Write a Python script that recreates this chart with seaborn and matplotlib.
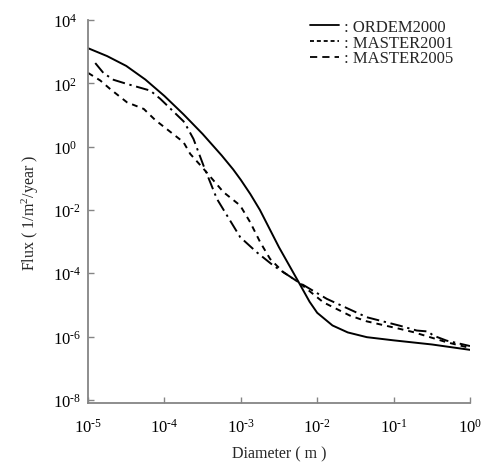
import numpy as np
import pandas as pd
import matplotlib
matplotlib.use("Agg")
import matplotlib.pyplot as plt
from matplotlib.lines import Line2D
import seaborn as sns

# Flux curves, stored as log10(diameter [m]) and log10(flux [1/m^2/year])
ordem_log_d = [-5.0, -4.75, -4.5, -4.25, -4.0, -3.75, -3.5, -3.25, -3.1, -3.0, -2.875,
               -2.75, -2.5, -2.25, -2.1, -2.0, -1.8, -1.6, -1.35, -1.0, -0.5, 0.0]
ordem_log_f = [3.11, 2.86, 2.55, 2.12, 1.60, 1.02, 0.40, -0.28, -0.72, -1.05, -1.50,
               -2.00, -3.18, -4.25, -4.90, -5.25, -5.65, -5.87, -6.02, -6.12, -6.25, -6.42]

m2001_log_d = [-5.0, -4.84, -4.71, -4.49, -4.27, -4.12, -3.75, -3.662, -3.488, -3.226,
               -3.008, -2.877, -2.746, -2.616, -2.442, -2.246, -1.919, -1.57, -1.351,
               -0.915, -0.742, -0.305, 0.0]
m2001_log_f = [2.33, 2.09, 1.82, 1.40, 1.19, 0.84, 0.14, -0.23, -0.70, -1.44,
               -1.86, -2.39, -3.02, -3.55, -3.97, -4.28, -4.92, -5.34, -5.52,
               -5.76, -5.86, -6.18, -6.36]

m2005_log_d = [-4.905, -4.796, -4.665, -4.49, -4.185, -4.054, -3.75, -3.705, -3.619,
               -3.488, -3.313, -3.008, -2.79, -2.573, -2.246, -1.874, -1.351, -0.915,
               -0.697, -0.55, -0.48, -0.305, 0.0]
m2005_log_f = [2.64, 2.32, 2.11, 1.98, 1.77, 1.51, 0.80, 0.62, 0.24,
               -0.60, -1.65, -2.86, -3.34, -3.76, -4.28, -4.81, -5.39, -5.66,
               -5.81, -5.84, -5.97, -6.13, -6.30]

series_names = [": ORDEM2000", ": MASTER2001", ": MASTER2005"]

x_ticks = [1e-5, 1e-4, 1e-3, 1e-2, 1e-1, 1e0]
x_tick_labels = [r"$\mathregular{10^{\text{-}5}}$", r"$\mathregular{10^{\text{-}4}}$",
                 r"$\mathregular{10^{\text{-}3}}$", r"$\mathregular{10^{\text{-}2}}$",
                 r"$\mathregular{10^{\text{-}1}}$", r"$\mathregular{10^{0}}$"]
y_ticks = [1e4, 1e2, 1e0, 1e-2, 1e-4, 1e-6, 1e-8]
y_tick_labels = [r"$\mathregular{10^{4}}$", r"$\mathregular{10^{2}}$", r"$\mathregular{10^{0}}$",
                 r"$\mathregular{10^{\text{-}2}}$", r"$\mathregular{10^{\text{-}4}}$",
                 r"$\mathregular{10^{\text{-}6}}$", r"$\mathregular{10^{\text{-}8}}$"]

sns.set_style("ticks")
plt.rcParams["font.family"] = ["Liberation Serif", "DejaVu Serif"]
plt.rcParams["mathtext.fontset"] = "custom"
plt.rcParams["mathtext.rm"] = "Liberation Serif"
plt.rcParams["mathtext.it"] = "Liberation Serif:italic"
plt.rcParams["axes.unicode_minus"] = False

fig = plt.figure(figsize=(4.86, 4.64), dpi=100)
ax = fig.add_axes([88 / 486, 1 - 403.7 / 464, (470 - 88) / 486, (403.7 - 21) / 464])

curves = [
    (ordem_log_d, ordem_log_f, "-"),
    (m2001_log_d, m2001_log_f, (0, (3.0, 2.6))),
    (m2005_log_d, m2005_log_f, (0, (6.5, 2.4, 1.2, 2.4))),
]
for (ld, lf, ls), name in zip(curves, series_names):
    df = pd.DataFrame({"Diameter": np.power(10.0, ld), "Flux": np.power(10.0, lf)})
    sns.lineplot(data=df, x="Diameter", y="Flux", ax=ax, color="black",
                 linewidth=1.4, linestyle=ls, sort=False, estimator=None)

ax.set_xscale("log")
ax.set_yscale("log")
ax.set_xlim(1e-5, 1e0)
ax.set_ylim(10 ** -8.09, 1e4)

ax.set_xticks(x_ticks)
ax.set_xticklabels(x_tick_labels)
ax.set_yticks(y_ticks)
ax.set_yticklabels(y_tick_labels, ha="left")
ax.minorticks_off()

spine_color = "#858585"
for side in ["top", "right"]:
    ax.spines[side].set_visible(False)
for side in ["left", "bottom"]:
    ax.spines[side].set_color(spine_color)
    ax.spines[side].set_linewidth(1.3)
ax.tick_params(axis="both", direction="in", length=4, width=1.0, color=spine_color,
               labelsize=12, labelcolor="black")
ax.tick_params(axis="x", pad=11)
ax.tick_params(axis="y", pad=25)

ax.set_xlabel("Diameter ( m )", fontsize=11.5, labelpad=7)
ax.set_ylabel(r"Flux ( 1/m$\mathregular{^2}$/year )", fontsize=11.5, labelpad=9)

handles = [
    Line2D([], [], color="black", lw=1.3, linestyle="-"),
    Line2D([], [], color="black", lw=1.3, linestyle=(0, (2.2, 1.6))),
    Line2D([], [], color="black", lw=1.3, linestyle=(0, (4.0, 2.8))),
]
fig.legend(handles, series_names, loc="upper left", bbox_to_anchor=(310 / 486, 1 - 20 / 464),
           frameon=False, fontsize=12, handlelength=1.75, handletextpad=0.3,
           labelspacing=-0.02, borderpad=0, borderaxespad=0)

fig.savefig("out.png", dpi=100)
